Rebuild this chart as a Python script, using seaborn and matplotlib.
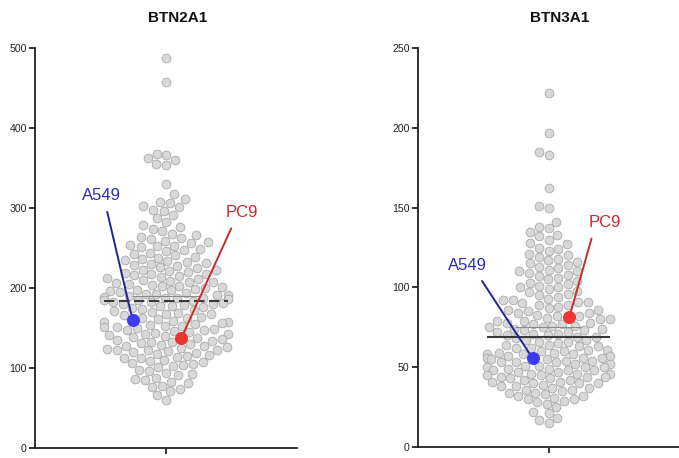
import numpy as np
import pandas as pd
import matplotlib
matplotlib.use("Agg")
import matplotlib.pyplot as plt
import seaborn as sns

# ---------------- data ----------------
genes = ["BTN2A1", "BTN3A1"]

btn2a1 = [487, 458,
          368, 366, 362, 360, 355, 354, 330, 317, 311,
          308, 306, 303, 301, 298, 296, 291, 287, 283,
          279, 276, 274, 271, 268, 266, 264, 262, 261,
          259, 257, 256, 254, 253, 252, 251,
          249, 247, 246, 244, 243, 241,
          239, 238, 236, 235, 234, 232, 231, 230,
          229, 228, 226, 225, 223, 222, 221, 220,
          219, 218, 217, 216, 215, 214, 212, 211, 210,
          209, 208, 207, 206, 205, 204, 203, 202, 201, 200,
          199, 198, 197, 196, 195, 194, 193, 192, 191, 191, 190,
          189, 188, 188, 187, 186, 185, 185, 184, 183, 182, 181, 180, 180,
          179, 178, 177, 176, 175, 174, 172, 171, 170,
          169, 168, 167, 166, 164, 163, 162, 161,
          159, 158, 157, 156, 155, 154, 153, 152, 151, 151, 150,
          149, 148, 147, 146, 145, 144, 143, 142, 141, 140,
          139, 138, 136, 135, 134, 133, 132, 131, 130,
          129, 128, 127, 126, 125, 124, 123, 122, 122, 121, 120,
          119, 118, 116, 115, 114, 113, 112, 110,
          109, 107, 106, 105, 104, 103, 101,
          98, 96, 94, 92, 91, 88, 86, 85, 83, 81, 78, 76, 74, 71, 66, 60]

btn3a1 = [222, 197, 185, 183, 162, 151, 150, 141, 138,
          137, 135, 133, 132, 130,
          128, 127, 125, 124, 123, 121, 120,
          119, 118, 117, 116, 115, 114, 113, 112, 111, 110, 110,
          109, 108, 107, 106, 105, 104, 103, 102, 101, 100, 100,
          99, 98, 97, 96, 95, 94, 93, 92, 92, 91, 91, 90,
          89, 89, 88, 87, 86, 86, 85, 84, 84, 83, 82, 82, 81, 80, 80,
          79, 79, 78, 78, 77, 77, 76, 76, 75, 75, 74, 74, 73, 73, 72, 72, 71, 71, 70, 70,
          69, 69, 68, 67, 67, 66, 66, 65, 64, 64, 63, 63, 62, 62, 61, 61, 60, 60,
          59, 59, 58, 58, 58, 57, 57, 56, 56, 56, 55, 55, 54, 54, 53, 53, 53, 52, 52,
          51, 51, 50, 50, 50,
          49, 49, 48, 48, 48, 47, 47, 46, 46, 46, 45, 45, 44, 44, 44, 43, 43, 42, 42,
          41, 41, 40, 40, 40,
          39, 38, 38, 37, 37, 36, 36, 35, 34, 34, 33, 32, 32, 31, 30, 30,
          29, 28, 27, 25, 22, 21, 18, 17, 15]

a549 = [160.5, 55.6]   # BTN2A1, BTN3A1
pc9 = [137.5, 81.3]

yticks_list = [[0, 100, 200, 300, 400, 500], [0, 50, 100, 150, 200, 250]]
ylims = [(0, 500), (0, 250)]

# ---------------- style ----------------
sns.set_style("ticks")
plt.rcParams["font.family"] = ["Liberation Sans", "DejaVu Sans"]

W, H = 679, 458
fig = plt.figure(figsize=(W / 100, H / 100), dpi=100)

axes_px = [(35, 297, 48, 448), (418, 679, 48, 447)]
title_px = [(178, 18), (560, 18)]
XL = 0.85

label_pos = [
    {"A549": ((-0.42, 306), (0.6, 0)), "PC9": ((0.49, 285), (0.3, 0))},
    {"A549": ((-0.53, 109), (0.75, 0)), "PC9": ((0.37, 136), (0.15, 0))},
]
line_styles = [(0, (5, 2.2)), "-"]

blue_txt, blue_line, blue_pt = "#2b2bc4", "#22229a", "#3b3bf2"
red_txt, red_line, red_pt = "#d0252b", "#cc2b2b", "#ee3535"

all_axes = []
for i, (gene, vals) in enumerate(zip(genes, [btn2a1, btn3a1])):
    l, r, t, b = axes_px[i]
    ax = fig.add_axes([l / W, 1 - b / H, (r - l) / W, (b - t) / H])
    values = list(vals) + [a549[i], pc9[i]]
    df = pd.DataFrame({"gene": gene, "value": values})
    sns.swarmplot(data=df, y="value", ax=ax, color="#d8d8d8",
                  edgecolor="#a9a9a9", linewidth=0.6, size=6.3, zorder=2,
                  warn_thresh=1.0)
    ax.set_xlim(-XL, XL)
    ax.set_ylim(*ylims[i])
    ax.set_yticks(yticks_list[i])
    ax.set_xticks([0])
    ax.set_xticklabels([""])
    ax.set_xlabel("")
    ax.set_ylabel("")
    sns.despine(ax=ax)
    for s in ["left", "bottom"]:
        ax.spines[s].set_linewidth(1.3)
        ax.spines[s].set_color("#222222")
    ax.tick_params(axis="both", length=4.5, width=1.3, color="#222222",
                   labelsize=7.6, labelcolor="#222222", pad=1.5)
    med_val = np.median(values)
    mean_val = np.mean(values)
    ax.hlines(med_val, -0.4, 0.4, color="#3a3a3a", lw=1.5, zorder=3,
              linestyles=[line_styles[i]])
    ax.hlines(mean_val, -0.22, 0.22, color="#8a8a8a", lw=0.8, zorder=3)
    fig.text(title_px[i][0] / W, 1 - title_px[i][1] / H, gene,
             ha="center", va="center", fontsize=11, fontweight="bold",
             color="#111111")
    all_axes.append((ax, values))

fig.canvas.draw()

for i, (ax, values) in enumerate(all_axes):
    offs = ax.collections[0].get_offsets()
    ys = np.asarray(offs[:, 1])
    for name, val, tc, lc, pc in [("A549", a549[i], blue_txt, blue_line, blue_pt),
                                  ("PC9", pc9[i], red_txt, red_line, red_pt)]:
        k = int(np.argmin(np.abs(ys - val)))
        px, py = offs[k, 0], offs[k, 1]
        (tx, ty), rel = label_pos[i][name]
        ax.scatter([px], [py], s=70, color=pc, edgecolor=pc, zorder=5)
        ax.annotate(name, xy=(px, py), xytext=(tx, ty), textcoords="data",
                    ha="center", va="bottom", fontsize=12, color=tc,
                    arrowprops=dict(arrowstyle="-", color=lc, lw=1.4,
                                    relpos=rel, shrinkA=4, shrinkB=0),
                    zorder=4, annotation_clip=False)

fig.savefig("out.png", dpi=100)
